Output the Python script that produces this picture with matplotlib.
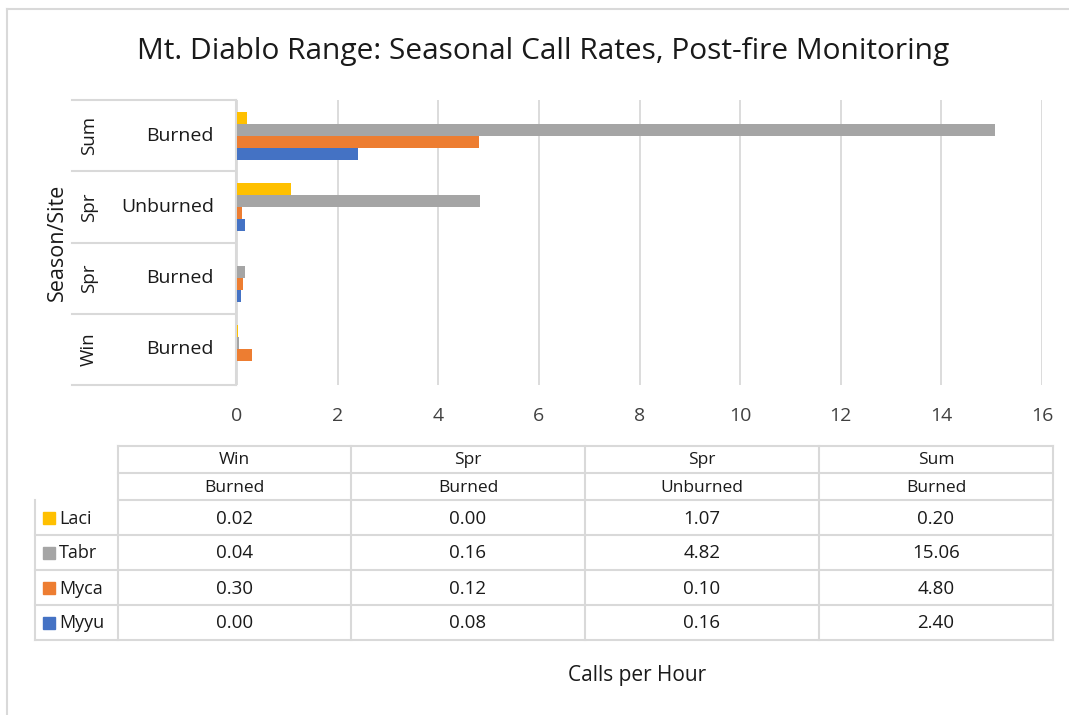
import matplotlib
matplotlib.use("Agg")
import matplotlib.pyplot as plt
from matplotlib.patches import Rectangle

# categories, bottom to top as drawn on the y axis
seasons = ["Win", "Spr", "Spr", "Sum"]
sites = ["Burned", "Burned", "Unburned", "Burned"]

species = ["Laci", "Tabr", "Myca", "Myyu"]
laci = [0.02, 0.00, 1.07, 0.20]
tabr = [0.04, 0.16, 4.82, 15.06]
myca = [0.30, 0.12, 0.10, 4.80]
myyu = [0.00, 0.08, 0.16, 2.40]
colors = ["#FFC000", "#A5A5A5", "#ED7D31", "#4472C4"]

xticks = list(range(0, 17, 2))

plt.rcParams["font.family"] = ["Open Sans", "DejaVu Sans"]
W, H = 1069, 715
fig = plt.figure(figsize=(W / 100, H / 100), dpi=100)
txt = "#1a1a1a"


def px_axes(x0, y0, x1, y1):
    # axes placed by pixel box (top-left origin)
    return fig.add_axes([x0 / W, 1 - y1 / H, (x1 - x0) / W, (y1 - y0) / H])


# overlay for frame, category labels and data table
ov = px_axes(0, 0, W, H)
ov.set_xlim(0, W)
ov.set_ylim(H, 0)
ov.axis("off")

ax = px_axes(237, 100, 1042, 385)
ax.set_zorder(2)
ax.patch.set_alpha(0)

series = [laci, tabr, myca, myyu]
h = 0.168
offsets = [1.5 * h, 0.5 * h, -0.5 * h, -1.5 * h]
for vals, col, off in zip(series, colors, offsets):
    ax.barh([i + off for i in range(len(vals))], vals, height=h, color=col)

ax.set_xlim(0, 16)
ax.set_ylim(-0.5, 3.5)
ax.set_xticks(xticks)
ax.set_xticklabels([str(t) for t in xticks], fontsize=14, color="#404040")
ax.tick_params(axis="x", length=0, pad=16)
ax.set_yticks([])
ax.grid(axis="x", color="#D9D9D9", linewidth=1.3)
ax.set_axisbelow(True)
for s in ax.spines.values():
    s.set_visible(False)

# chart frame
line = dict(color="#D9D9D9", linewidth=1.5)
ov.plot([7, W], [9, 9], **line)
ov.plot([7, 7], [9, H], **line)

ov.text(543, 51, "Mt. Diablo Range: Seasonal Call Rates, Post-fire Monitoring",
        ha="center", va="center", fontsize=21.5, color=txt)

# category label boxes
top, bot = 100, 385
band = (bot - top) / len(seasons)
ov.plot([236, 236], [top, bot], color="#D9D9D9", linewidth=1.5)
for k in range(len(seasons) + 1):
    y = top + k * band
    ov.plot([72, 236], [y, y], color="#D9D9D9", linewidth=1.5)
for i, (sea, site) in enumerate(zip(seasons, sites)):
    yc = bot - (i + 0.5) * band
    ov.text(89, yc, sea, rotation=90, ha="center", va="center",
            fontsize=13.5, color=txt)
    ov.text(214, yc, site, ha="right", va="center", fontsize=14,
            color=txt)
ov.text(57, (top + bot) / 2, "Season/Site", rotation=90, ha="center",
        va="center", fontsize=15.5, color=txt)

# data table
cols_x = [118, 351, 585, 819, 1053]
hdr_y = [446, 473, 500]
rows_y = [500, 535, 570, 605, 640]
tl = dict(color="#D9D9D9", linewidth=1.5)
for y in hdr_y:
    ov.plot([cols_x[0], cols_x[-1]], [y, y], **tl)
for y in rows_y[1:]:
    ov.plot([35, cols_x[-1]], [y, y], **tl)
for x in cols_x:
    ov.plot([x, x], [hdr_y[0], rows_y[-1]], **tl)
ov.plot([35, 35], [rows_y[0], rows_y[-1]], **tl)

for j, (sea, site) in enumerate(zip(seasons, sites)):
    xc = (cols_x[j] + cols_x[j + 1]) / 2
    ov.text(xc, (hdr_y[0] + hdr_y[1]) / 2 + 1, sea, ha="center",
            va="center", fontsize=12.5, color=txt)
    ov.text(xc, (hdr_y[1] + hdr_y[2]) / 2 + 1, site, ha="center",
            va="center", fontsize=12.5, color=txt)

for r, (name, vals, col) in enumerate(zip(species, series, colors)):
    yc = (rows_y[r] + rows_y[r + 1]) / 2
    ov.add_patch(Rectangle((43, yc - 6), 12, 12, color=col))
    ov.text(59, yc + 1, name, ha="left", va="center", fontsize=13,
            color=txt)
    for j, v in enumerate(vals):
        xc = (cols_x[j] + cols_x[j + 1]) / 2
        ov.text(xc, yc + 1, f"{v:.2f}", ha="center", va="center",
                fontsize=13.5, color=txt)

ov.text(637, 676, "Calls per Hour", ha="center", va="center", fontsize=15,
        color=txt)

fig.savefig("out.png", dpi=100)
